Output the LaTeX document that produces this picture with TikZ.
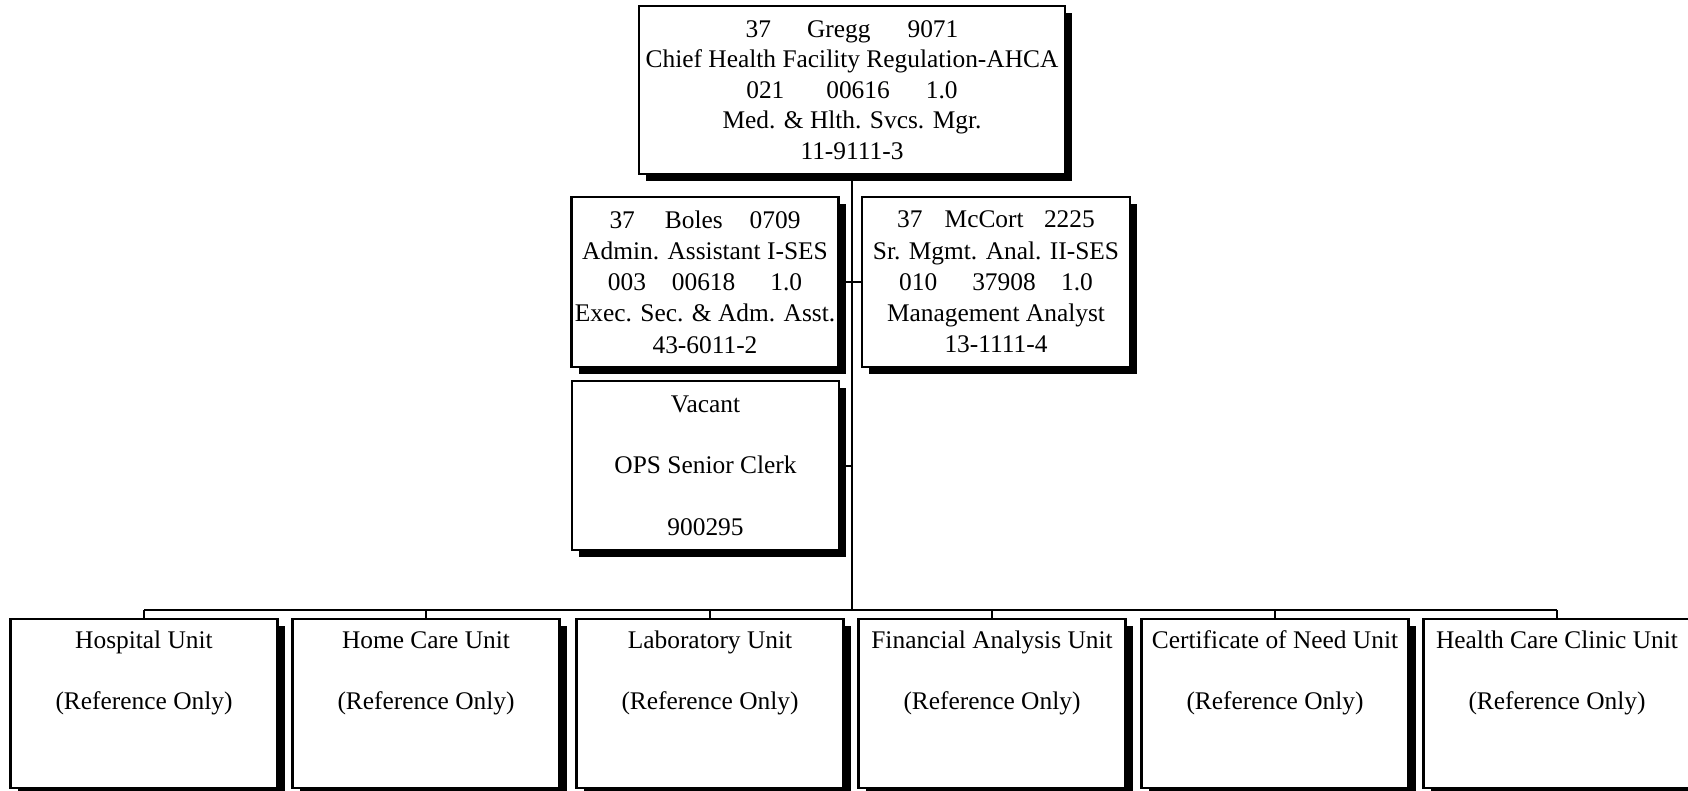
\documentclass[tikz,border=0pt]{standalone}
\usepackage{fontspec}
\setmainfont{Liberation Serif}
\usetikzlibrary{shadows}
\begin{document}
\begin{tikzpicture}[x=1pt,y=-1pt,
  orgbox/.style={draw, line width=2.6pt, fill=white, inner sep=0pt,
    align=center, font=\fontsize{25.4}{31.2}\selectfont,
    drop shadow={shadow xshift=7pt, shadow yshift=-7pt, fill=black, opacity=1}},
  link/.style={line width=2pt}]
\useasboundingbox (0,0) rectangle (1688,790);

% chief
\node[orgbox, minimum width=426pt, minimum height=168pt,
      font=\fontsize{25.4}{30.6}\selectfont] (chief) at (852,90)
  {37\hspace{1.42em}Gregg\hspace{1.46em}9071\\
   Chief Health Facility Regulation-AHCA\\
   021\hspace{1.65em}00616\hspace{1.42em}1.0\\
   Med. \& Hlth. Svcs. Mgr.\\
   11-9111-3};

% staff positions
\node[orgbox, minimum width=267pt, minimum height=170pt] (boles) at (705,282)
  {37\hspace{1.18em}Boles\hspace{1.06em}0709\\
   Admin. Assistant I-SES\\
   003\hspace{1.02em}00618\hspace{1.38em}1.0\\
   Exec. Sec. \& Adm. Asst.\\
   43-6011-2};
\node[orgbox, minimum width=268pt, minimum height=170pt] (mccort) at (996,282)
  {37\hspace{0.87em}McCort\hspace{0.8em}2225\\
   Sr. Mgmt. Anal. II-SES\\
   010\hspace{1.38em}37908\hspace{1.0em}1.0\\
   Management Analyst\\
   13-1111-4};
\node[orgbox, minimum width=267pt, minimum height=169pt] (vacant) at (705.5,465.5)
  {Vacant\\[30.5pt]
   OPS Senior Clerk\\[30.5pt]
   900295};

% units
\foreach \n/\x/\t in {u1/144/Hospital Unit, u2/426/Home Care Unit,
    u3/710/Laboratory Unit, u4/992/Financial Analysis Unit,
    u5/1275/Certificate of Need Unit, u6/1557/Health Care Clinic Unit}
  \node[orgbox, minimum width=267pt, minimum height=169pt] (\n) at (\x,703.5)
    {\strut\t\\[30.5pt](Reference Only)\\[30.5pt]\strut};

\coordinate (bus) at (852,610);

% connectors
\draw[link] (chief.south) -- (bus);
\draw[link] (boles.east) -- (boles.east -| chief.south);
\draw[link] (mccort.west) -- (mccort.west -| chief.south);
\draw[link] (vacant.east) -- (vacant.east -| chief.south);
\draw[link, line width=1.8pt] (u1.north |- bus) -- (u6.north |- bus);
\foreach \n in {u1,u2,u3,u4,u5,u6}
  \draw[link, line width=1.8pt] (\n.north |- bus) -- (\n.north);
\end{tikzpicture}
\end{document}
